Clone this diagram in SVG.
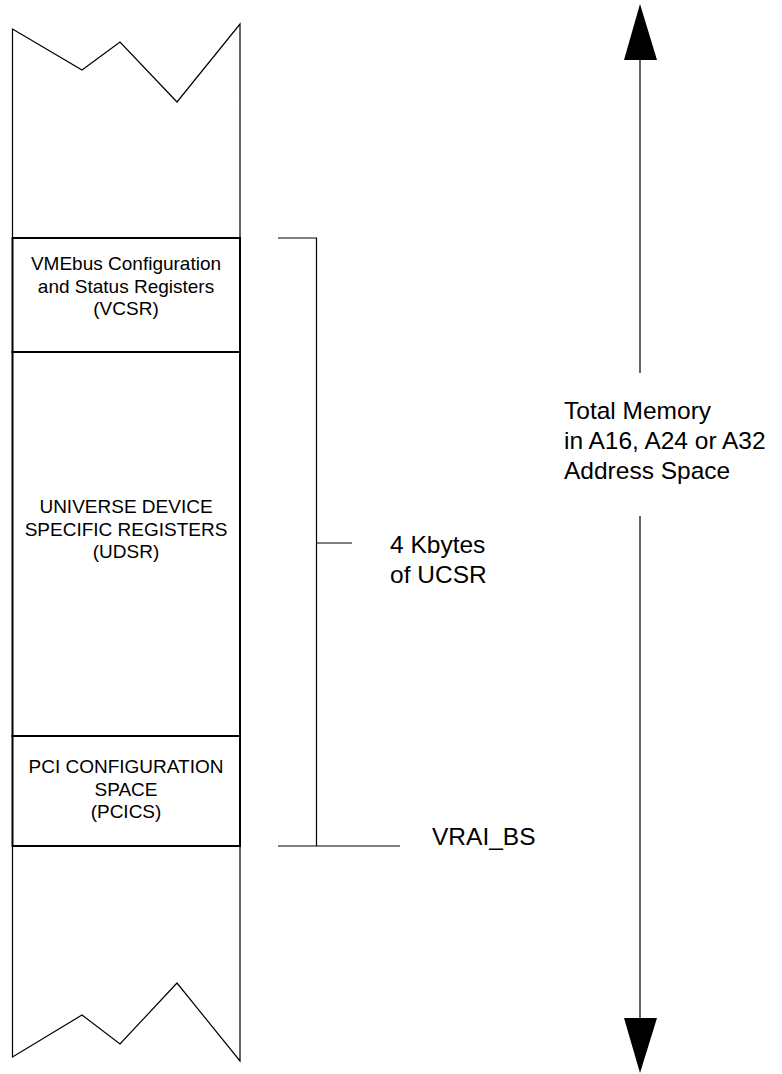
<svg xmlns="http://www.w3.org/2000/svg" width="782" height="1074" viewBox="0 0 782 1074">
<style>
.thin{fill:none;stroke:#000;stroke-width:1.2}
.box{fill:#fff;stroke:#000;stroke-width:2}
.bt{font-family:"Liberation Sans",Arial,sans-serif;font-size:19px;fill:#000;text-anchor:middle}
.lt{font-family:"Liberation Sans",Arial,sans-serif;font-size:24.5px;fill:#000}
.head{fill:#000;stroke:none}
</style>
<rect width="782" height="1074" fill="#fff"/>
<g id="top-break">
<path class="thin" d="M12.5,238 V29 L82,70 L120,42 L177,102 L240,24 V238"/>
</g>
<g id="bottom-break">
<path class="thin" d="M12.5,847 V1057 L82,1015 L120,1044 L177,983 L240,1061 V847"/>
</g>
<g id="vcsr">
<rect class="box" x="12.5" y="238" width="227.5" height="114"/>
<text class="bt" x="126" y="270">VMEbus Configuration</text>
<text class="bt" x="126" y="293">and Status Registers</text>
<text class="bt" x="126" y="315">(VCSR)</text>
</g>
<g id="udsr">
<rect class="box" x="12.5" y="352" width="227.5" height="384"/>
<text class="bt" x="126" y="513">UNIVERSE DEVICE</text>
<text class="bt" x="126" y="536">SPECIFIC REGISTERS</text>
<text class="bt" x="126" y="558">(UDSR)</text>
</g>
<g id="pcics">
<rect class="box" x="12.5" y="736" width="227.5" height="110"/>
<text class="bt" x="126" y="773">PCI CONFIGURATION</text>
<text class="bt" x="126" y="796">SPACE</text>
<text class="bt" x="126" y="818">(PCICS)</text>
</g>
<g id="connectors">
<path class="thin" d="M278,238 H316.5 V846 M316.5,543 H352 M278,846 H400"/>
<path class="thin" d="M640,60 V373 M640,516 V1018"/>
<polygon class="head" points="640,4 657,60 624,60"/>
<polygon class="head" points="640,1073 657,1018 624,1018"/>
</g>
<g id="labels">
<text class="lt" x="390" y="553">4 Kbytes</text>
<text class="lt" x="390" y="583">of UCSR</text>
<text class="lt" x="432" y="845">VRAI_BS</text>
<text class="lt" x="564" y="419">Total Memory</text>
<text class="lt" x="564" y="449">in A16, A24 or A32</text>
<text class="lt" x="564" y="479">Address Space</text>
</g>
</svg>
